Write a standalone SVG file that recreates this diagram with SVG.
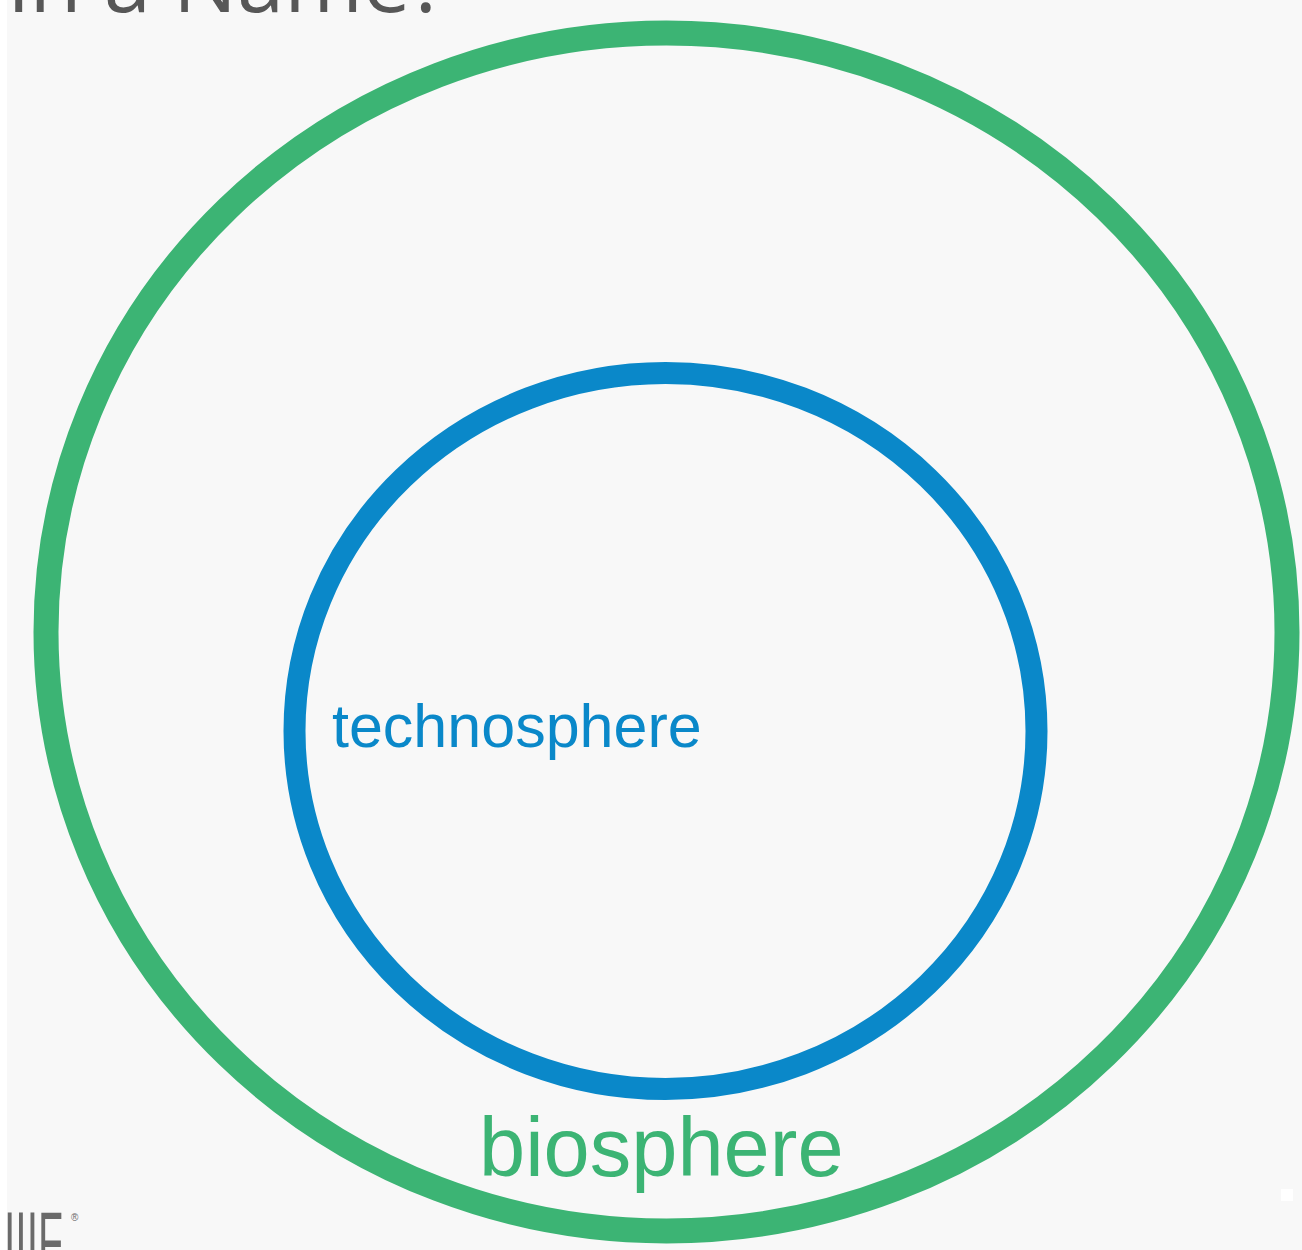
<svg xmlns="http://www.w3.org/2000/svg" width="1302" height="1250" viewBox="0 0 1302 1250">
  <style>
    .ring { fill: none; }
    .bio { stroke: #3cb474; }
    .tech { stroke: #0a88c9; }
    .label { font-family: "Liberation Sans", Arial, sans-serif; }
    .title { font-family: "Open Sans", "DejaVu Sans", sans-serif; fill: #575757; }
    .logo { font-family: "Liberation Sans", Arial, sans-serif; fill: #6a6a6a; }
  </style>
  <!-- page background -->
  <rect x="0" y="0" width="1302" height="1250" fill="#f8f8f8"/>
  <rect x="0" y="0" width="7" height="1250" fill="#ffffff"/>
  <rect x="1281" y="1189" width="12" height="12" fill="#ffffff"/>

  <!-- heading, cut by the top edge -->
  <text class="title" x="8" y="12" font-size="85">in a Name?</text>

  <g id="biosphere">
    <ellipse class="ring bio" cx="666.5" cy="632" rx="620.5" ry="599" stroke-width="25"/>
    <text class="label" x="479" y="1176" font-size="83" fill="#3cb474">biosphere</text>
  </g>

  <g id="technosphere">
    <ellipse class="ring tech" cx="665.5" cy="731" rx="371" ry="358" stroke-width="22"/>
    <text class="label" x="332" y="747" font-size="61" fill="#0a88c9">technosphere</text>
  </g>

  <!-- corner logo -->
  <g id="logo">
    <text class="logo" x="4" y="1270" font-size="84" textLength="59" lengthAdjust="spacingAndGlyphs" font-weight="300">IIIF</text>
    <text class="logo" x="71" y="1221" font-size="10">®</text>
  </g>
</svg>
